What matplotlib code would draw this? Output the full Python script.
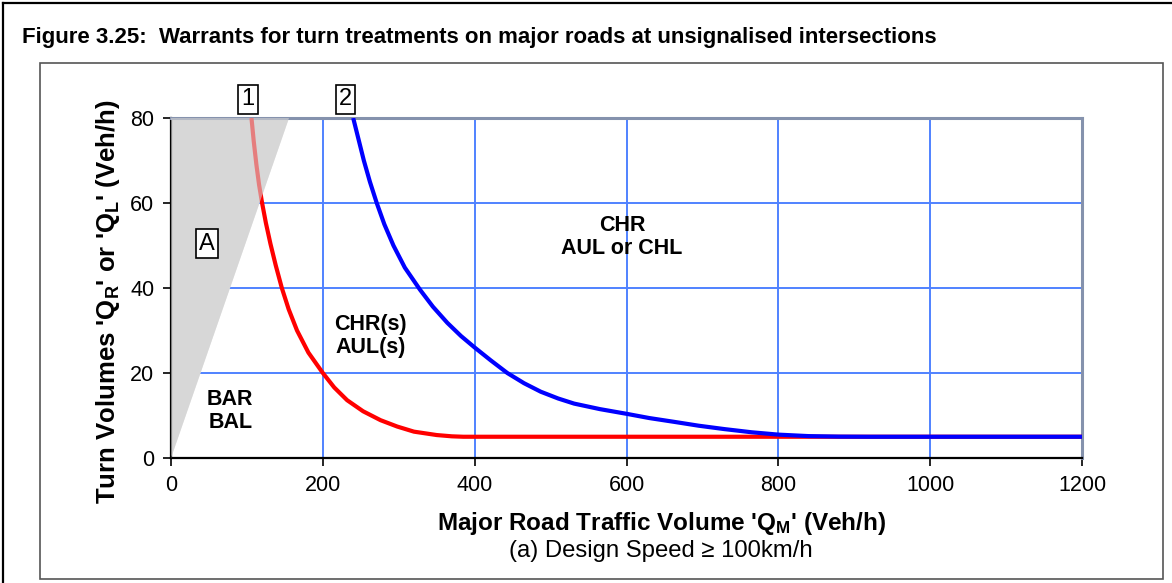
import matplotlib
matplotlib.use("Agg")
import matplotlib.pyplot as plt
from matplotlib.patches import Polygon, Rectangle
from matplotlib.lines import Line2D

plt.rcParams['font.family'] = ['Liberation Sans', 'DejaVu Sans']
plt.rcParams['mathtext.default'] = 'regular'

# ---- data ----
red_x = [106, 109, 112.5, 116, 120, 125, 131, 138, 146, 155, 166, 181, 200, 215, 232, 253,
         276, 298, 320, 350, 370, 385, 1200]
red_y = [80, 74.5, 69, 64.3, 60, 55.3, 50.4, 45.3, 40, 35, 30, 24.8, 20, 16.6, 13.6, 11,
         8.9, 7.4, 6.2, 5.4, 5.1, 5, 5]
blue_x = [240, 247, 254, 262, 271, 281, 293, 308, 328, 345, 364, 382, 400, 421, 443, 465,
          487, 510, 531, 565, 600, 630, 663, 695, 729, 765, 800, 840, 880, 920, 1200]
blue_y = [80, 75, 70, 65, 60, 55, 50, 44.8, 39.6, 35.6, 31.8, 28.7, 26, 23, 20, 17.6,
          15.6, 14.0, 12.8, 11.5, 10.4, 9.4, 8.5, 7.6, 6.8, 6.05, 5.5, 5.15, 5.03, 5, 5]
shade_x = [0, 0, 155]
shade_y = [0, 80, 80]
x_ticks = [0, 200, 400, 600, 800, 1000, 1200]
y_ticks = [0, 20, 40, 60, 80]
regions = [("CHR\nAUL or CHL", 594, 52), ("CHR(s)\nAUL(s)", 263, 28.7), ("BAR\nBAL", 78, 11)]
boxes = [("1", 101, 84.4), ("2", 230, 84.4), ("A", 47, 50.4)]

W, H = 1172, 583
fig = plt.figure(figsize=(W / 100, H / 100), dpi=100)
fig.patch.set_facecolor('white')

def fx(px): return px / W
def fy(py): return 1 - py / H
fig.add_artist(Line2D([fx(3), 1], [fy(3), fy(3)], color='black', lw=1.6))
fig.add_artist(Line2D([fx(3), fx(3)], [fy(3), 0], color='black', lw=1.6))
fig.add_artist(Rectangle((fx(40), fy(579)), fx(1163) - fx(40), fy(63) - fy(579),
                         fill=False, edgecolor='#555555', lw=1.2))

fig.text(fx(22), fy(38), "Figure 3.25:  Warrants for turn treatments on major roads at unsignalised intersections",
         fontsize=16, fontweight='bold', ha='left', va='center')

ax = fig.add_axes([fx(171), fy(458), fx(1082) - fx(171), fy(118) - fy(458)])
ax.set_xlim(0, 1200)
ax.set_ylim(0, 80)
ax.set_xticks(x_ticks)
ax.set_yticks(y_ticks)
ax.tick_params(axis='both', labelsize=15.5, direction='out', length=6, width=1.2, pad=6)

gridc = '#5082ff'
ax.grid(True, color=gridc, lw=1.4, zorder=0)
ax.set_axisbelow(True)

for s in ['left', 'bottom']:
    ax.spines[s].set_color('black')
    ax.spines[s].set_linewidth(1.6)
for s in ['top', 'right']:
    ax.spines[s].set_color('#8592ad')
    ax.spines[s].set_linewidth(2.2)

shade = list(zip(shade_x, shade_y))
ax.add_patch(Polygon(shade, closed=True, facecolor='#dcdcdc', edgecolor='none', zorder=1))
ax.plot(red_x, red_y, color='#ff0000', lw=3.0, solid_joinstyle='round', solid_capstyle='butt', zorder=3)
ax.plot(blue_x, blue_y, color='#0000ff', lw=3.0, solid_joinstyle='round', solid_capstyle='butt', zorder=4)
ax.add_patch(Polygon(shade, closed=True, facecolor='#d4d4d4', edgecolor='none', alpha=0.6, zorder=5))

for txt, x, y in regions:
    ax.text(x, y, txt, fontsize=15.5, fontweight='bold', ha='center', va='center',
            linespacing=1.1, zorder=6)

for txt, x, y in boxes:
    ax.text(x, y, txt, fontsize=17, ha='center', va='center', zorder=7, clip_on=False,
            bbox=dict(boxstyle='square,pad=0.14', facecolor='white', edgecolor='black', lw=1.2))

ax.set_ylabel("Turn Volumes 'Q$_{R}$' or 'Q$_{L}$' (Veh/h)", fontsize=18.5, fontweight='bold')
ax.yaxis.set_label_coords(-0.054, 0.46)

ax.text(0.538, -0.194, "Major Road Traffic Volume 'Q$_{M}$' (Veh/h)", transform=ax.transAxes,
        fontsize=17.5, fontweight='bold', ha='center', va='center')
ax.text(0.538, -0.275, "(a) Design Speed ≥ 100km/h", transform=ax.transAxes,
        fontsize=17.2, ha='center', va='center')

fig.savefig('out.png', dpi=100, facecolor='white')
